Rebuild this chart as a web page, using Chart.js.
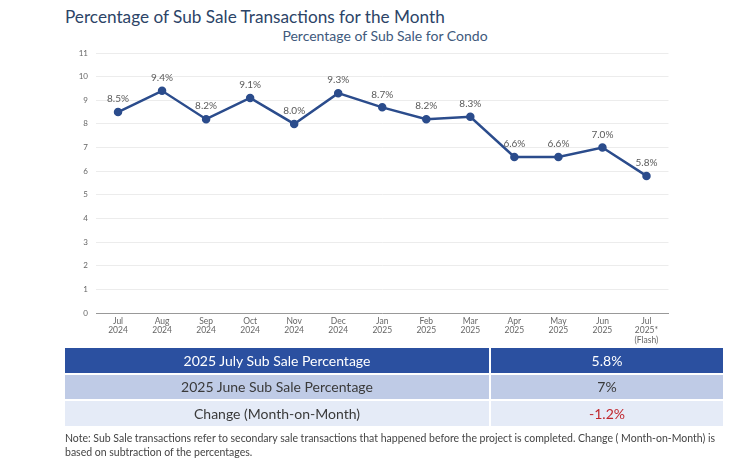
<!DOCTYPE html>
<html>
<head>
<meta charset="utf-8">
<script src="https://cdn.jsdelivr.net/npm/chart.js@4.4.0/dist/chart.umd.min.js"></script>
<style>
  body { margin:0; background:#fff; font-family: Lato, "Open Sans", sans-serif; }
  #page { position:relative; width:750px; height:463px; overflow:hidden; }
  .title { position:absolute; left:65px; top:6px; font-size:17.2px; color:#2c4467; }
  .subtitle { position:absolute; left:0; width:770px; text-align:center; top:27px; font-size:14px; color:#40597c; }
  #wrap { position:absolute; left:60px; top:40px; width:615px; height:310px; }
  table { position:absolute; left:65px; top:346px; width:658px; border-collapse:separate; border-spacing:0 2px; font-size:14px; }
  td { text-align:center; height:24.5px; padding:0; }
  td.v { width:232px; border-left:2px solid #fff; }
  .r1 td { background:#2b50a0; color:#fff; }
  .r2 td { background:#bfcbe6; color:#3a3a3a; }
  .r3 td { background:#e5ebf7; color:#3a3a3a; }
  .neg { color:#c0262d !important; }
  .note { position:absolute; left:65px; top:431px; width:660px; font-size:10.5px; line-height:14px; color:#444; }
</style>
</head>
<body>
<div id="page">
  <div class="title">Percentage of Sub Sale Transactions for the Month</div>
  <div class="subtitle">Percentage of Sub Sale for Condo</div>
  <div id="wrap"><canvas id="myChart"></canvas></div>
  <table>
    <tr class="r1"><td>2025 July Sub Sale Percentage</td><td class="v">5.8%</td></tr>
    <tr class="r2"><td>2025 June Sub Sale Percentage</td><td class="v">7%</td></tr>
    <tr class="r3"><td>Change (Month-on-Month)</td><td class="v neg">-1.2%</td></tr>
  </table>
  <div class="note">Note: Sub Sale transactions refer to secondary sale transactions that happened before the project is completed. Change ( Month-on-Month) is based on subtraction of the percentages.</div>
</div>
<script>
const months = [
  ["Jul", "2024"], ["Aug", "2024"], ["Sep", "2024"], ["Oct", "2024"], ["Nov", "2024"],
  ["Dec", "2024"], ["Jan", "2025"], ["Feb", "2025"], ["Mar", "2025"], ["Apr", "2025"],
  ["May", "2025"], ["Jun", "2025"], ["Jul", "2025*", "(Flash)"]
]
const subSalePct = [8.5, 9.4, 8.2, 9.1, 8.0, 9.3, 8.7, 8.2, 8.3, 6.6, 6.6, 7.0, 5.8]

// simple value labels above each point
const pointLabels = {
  id: "pointLabels",
  afterDatasetsDraw(chart) {
    const ctx = chart.ctx
    const meta = chart.getDatasetMeta(0)
    ctx.save()
    ctx.font = "10px Lato"
    ctx.fillStyle = "#5a5a5a"
    ctx.textAlign = "center"
    ctx.textBaseline = "bottom"
    meta.data.forEach((pt, i) => {
      ctx.fillText(subSalePct[i].toFixed(1) + "%", pt.x, pt.y - 8)
    })
    ctx.restore()
  }
}

const chart1 = document.getElementById("myChart")
new Chart(chart1, {
  type: "line",
  data: {
    labels: months,
    datasets: [
      {
        label: "Sub Sale %",
        data: subSalePct,
        borderColor: "#2b4c8c",
        backgroundColor: "#2b4c8c",
        borderWidth: 2.5,
        pointRadius: 3,
        tension: 0,
      },
    ],
  },
  options: {
    responsive: true,
    maintainAspectRatio: false,
    animation: false,
    layout: { padding: { top: 13, right: 5, left: 0, bottom: 0 } },
    scales: {
      x: {
        offset: true,
        grid: { display: false, drawTicks: false },
        border: { color: "#999" },
        ticks: { color: "#666", font: { size: 8.5, family: "Lato", lineHeight: 1.15 }, maxRotation: 0, padding: 3 },
        afterFit(scale) { scale.height = 37 },
      },
      y: {
        min: 0,
        max: 11,
        ticks: { stepSize: 1, color: "#666", font: { size: 8, family: "Lato" }, padding: 8 },
        grid: { color: "#ececec", drawTicks: false },
        border: { display: false },
        afterFit(scale) { scale.width = 36 },
      },
    },
    plugins: {
      legend: { display: false },
      tooltip: { enabled: false },
    },
  },
  plugins: [pointLabels],
})
</script>
</body>
</html>
